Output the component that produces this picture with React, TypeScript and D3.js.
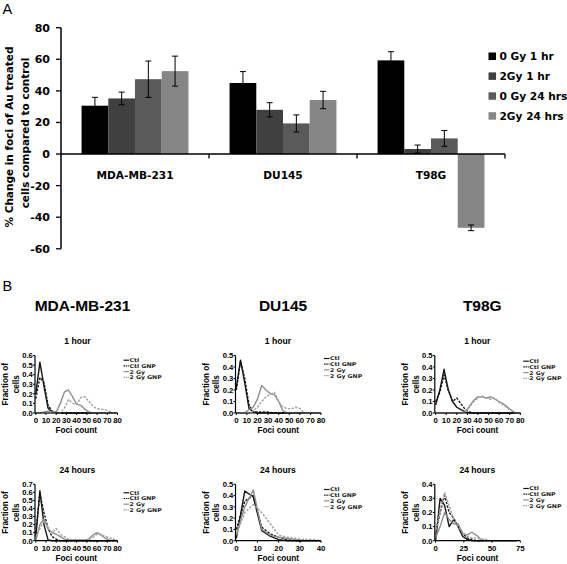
import React from "react";
import * as d3 from "d3";

// ---------- Panel A data ----------
const CATEGORIES = ["MDA-MB-231", "DU145", "T98G"];
const SERIES = ["0 Gy 1 hr", "2Gy 1 hr", "0 Gy 24 hrs", "2Gy 24 hrs"];
const VAL_0GY_1H = [30.6, 45, 59.3];
const VAL_2GY_1H = [35.2, 28, 3.2];
const VAL_0GY_24H = [47.4, 19.4, 9.9];
const VAL_2GY_24H = [52.5, 34.2, -46.7];
const ERR_0GY_1H = [5.3, 7.2, 5.5];
const ERR_2GY_1H = [4, 4.5, 2.5];
const ERR_0GY_24H = [11.5, 5.4, 5];
const ERR_2GY_24H = [9.5, 5.5, 1.8];
const Y_TICKS_A = [-60, -40, -20, 0, 20, 40, 60, 80];
const BAR_COLORS = ["#000000", "#404040", "#5a5a5a", "#868686"];

// ---------- Panel B data ----------
const LEGEND_B = ["Ctl", "Ctl GNP", "2 Gy", "2 Gy GNP"];
const COL_TITLES = ["MDA-MB-231", "DU145", "T98G"];
const ROW_TITLES = ["1 hour", "24 hours"];

const FOCI_80 = [0, 4, 8, 12, 16, 20, 24, 28, 32, 36, 40, 44, 48, 52, 56, 60, 64, 68, 72, 76, 80];
const FOCI_40 = [0, 4, 8, 12, 16, 20, 24, 28, 32, 36, 40];
const FOCI_72 = [0, 4, 8, 12, 16, 20, 24, 28, 32, 36, 40, 44, 48, 52, 56, 60, 64, 68, 72];

// MDA-MB-231, 1 hour
const MDA_1H_CTL = [0.2, 0.53, 0.28, 0.05, 0.01, 0, 0, 0, 0, 0, 0, 0, 0, 0, 0, 0, 0, 0, 0, 0, 0];
const MDA_1H_CTL_GNP = [0.15, 0.37, 0.32, 0.08, 0.02, 0.01, 0, 0, 0, 0, 0, 0, 0, 0, 0, 0, 0, 0, 0, 0, 0];
const MDA_1H_2GY = [0, 0, 0.01, 0.02, 0.01, 0.01, 0.1, 0.22, 0.24, 0.17, 0.09, 0.08, 0.04, 0.01, 0, 0, 0, 0, 0, 0, 0];
const MDA_1H_2GY_GNP = [0, 0, 0, 0, 0, 0, 0, 0.05, 0.14, 0.1, 0.09, 0.16, 0.17, 0.12, 0.07, 0.045, 0.04, 0.035, 0.02, 0, 0];
// DU145, 1 hour
const DU_1H_CTL = [0.22, 0.46, 0.26, 0.04, 0.01, 0, 0, 0, 0, 0, 0, 0, 0, 0, 0, 0, 0, 0, 0, 0, 0];
const DU_1H_CTL_GNP = [0.2, 0.45, 0.3, 0.07, 0.01, 0.01, 0.01, 0.01, 0.005, 0, 0, 0, 0, 0, 0, 0, 0, 0, 0, 0, 0];
const DU_1H_2GY = [0, 0, 0, 0.03, 0.05, 0.12, 0.24, 0.2, 0.17, 0.16, 0.1, 0.02, 0, 0, 0, 0, 0, 0, 0, 0, 0];
const DU_1H_2GY_GNP = [0, 0, 0, 0, 0.02, 0.05, 0.1, 0.14, 0.16, 0.18, 0.1, 0.05, 0.04, 0.035, 0.05, 0.04, 0, 0, 0, 0, 0];
// T98G, 1 hour
const T98_1H_CTL = [0.07, 0.2, 0.38, 0.2, 0.1, 0.05, 0.03, 0.01, 0, 0, 0, 0, 0, 0, 0, 0, 0, 0, 0, 0, 0];
const T98_1H_CTL_GNP = [0.1, 0.18, 0.33, 0.2, 0.1, 0.13, 0.08, 0.03, 0.01, 0, 0, 0, 0, 0, 0, 0, 0, 0, 0, 0, 0];
const T98_1H_2GY = [0, 0, 0, 0, 0, 0, 0, 0.01, 0.06, 0.11, 0.14, 0.14, 0.13, 0.14, 0.12, 0.1, 0.08, 0.05, 0.02, 0, 0];
const T98_1H_2GY_GNP = [0, 0, 0, 0, 0, 0, 0, 0.01, 0.05, 0.1, 0.13, 0.15, 0.13, 0.12, 0.13, 0.09, 0.07, 0.04, 0.02, 0, 0];
// MDA-MB-231, 24 hours
const MDA_24H_CTL = [0.05, 0.62, 0.2, 0.01, 0, 0, 0, 0, 0, 0, 0, 0, 0, 0, 0, 0, 0, 0, 0, 0, 0];
const MDA_24H_CTL_GNP = [0.1, 0.58, 0.35, 0.15, 0.05, 0.02, 0, 0, 0, 0, 0, 0, 0, 0, 0, 0, 0, 0, 0, 0, 0];
const MDA_24H_2GY = [0, 0.2, 0.27, 0.15, 0.1, 0.08, 0.05, 0.02, 0.01, 0.01, 0.01, 0.01, 0.01, 0.02, 0.07, 0.1, 0.07, 0.03, 0.01, 0, 0];
const MDA_24H_2GY_GNP = [0.05, 0.15, 0.25, 0.15, 0.1, 0.15, 0.08, 0.05, 0.02, 0.01, 0.02, 0.01, 0.01, 0.01, 0.04, 0.08, 0.08, 0.05, 0.04, 0.02, 0];
// DU145, 24 hours
const DU_24H_CTL = [0.02, 0.44, 0.39, 0.09, 0.04, 0.01, 0, 0, 0, 0, 0];
const DU_24H_CTL_GNP = [0.1, 0.35, 0.4, 0.12, 0.06, 0.03, 0.01, 0, 0, 0, 0];
const DU_24H_2GY = [0.05, 0.3, 0.45, 0.1, 0.05, 0.03, 0.02, 0.01, 0, 0, 0];
const DU_24H_2GY_GNP = [0.05, 0.25, 0.32, 0.25, 0.15, 0.05, 0.03, 0.02, 0.01, 0.01, 0];
// T98G, 24 hours
const T98_24H_CTL = [0, 0.3, 0.25, 0.1, 0.15, 0.1, 0.03, 0.01, 0, 0, 0, 0, 0, 0, 0, 0, 0, 0, 0];
const T98_24H_CTL_GNP = [0.05, 0.2, 0.32, 0.2, 0.16, 0.1, 0.05, 0.02, 0.01, 0, 0, 0, 0, 0, 0, 0, 0, 0, 0];
const T98_24H_2GY = [0.02, 0.1, 0.2, 0.15, 0.12, 0.12, 0.05, 0.04, 0.06, 0.04, 0.01, 0, 0, 0, 0, 0, 0, 0, 0];
const T98_24H_2GY_GNP = [0.05, 0.22, 0.34, 0.25, 0.15, 0.1, 0.06, 0.03, 0.02, 0.02, 0.01, 0.01, 0, 0, 0, 0, 0, 0, 0];

const X_MAX = [[80, 80, 80], [80, 40, 75]];
const X_STEP = [[10, 10, 10], [10, 10, 25]];
const Y_MAX = [[0.6, 0.5, 0.5], [0.7, 0.5, 0.4]];

const PANELS = [
  { row: 0, col: 0, foci: FOCI_80, series: [MDA_1H_CTL, MDA_1H_CTL_GNP, MDA_1H_2GY, MDA_1H_2GY_GNP] },
  { row: 0, col: 1, foci: FOCI_80, series: [DU_1H_CTL, DU_1H_CTL_GNP, DU_1H_2GY, DU_1H_2GY_GNP] },
  { row: 0, col: 2, foci: FOCI_80, series: [T98_1H_CTL, T98_1H_CTL_GNP, T98_1H_2GY, T98_1H_2GY_GNP] },
  { row: 1, col: 0, foci: FOCI_80, series: [MDA_24H_CTL, MDA_24H_CTL_GNP, MDA_24H_2GY, MDA_24H_2GY_GNP] },
  { row: 1, col: 1, foci: FOCI_40, series: [DU_24H_CTL, DU_24H_CTL_GNP, DU_24H_2GY, DU_24H_2GY_GNP] },
  { row: 1, col: 2, foci: FOCI_72, series: [T98_24H_CTL, T98_24H_CTL_GNP, T98_24H_2GY, T98_24H_2GY_GNP] },
];

// ---------- layout ----------
const W = 567, H = 564;
const DJ = "'DejaVu Sans', sans-serif";
const AR = "'Liberation Sans', Arial, sans-serif";
const COL_AX = [35, 235.5, 434.8];
const COL_W = [82.5, 85.5, 85.5];
const ROW_Y0 = [413, 540.7];
const ROW_TOP = [355.5, 484.3];
const LEG_Y = [[360.2, 358.5, 361.2], [492.8, 489.5, 488.5]];
const LEG_STEP = 5.7;
const LINE_STYLES = [
  { color: "#151515", dash: undefined },
  { color: "#151515", dash: "2.4,1.4" },
  { color: "#8e8e8e", dash: undefined },
  { color: "#a0a0a0", dash: "2.4,1.4" },
];

function BarPanel() {
  const y = d3.scaleLinear().domain([-60, 80]).range([248.8, 27.7]);
  const x0 = d3.scaleBand().domain(CATEGORIES).range([61, 505]);
  const x1 = d3.scaleBand().domain(SERIES).range([0, x0.bandwidth()]).paddingInner(0).paddingOuter(0.77);
  const vals = [VAL_0GY_1H, VAL_2GY_1H, VAL_0GY_24H, VAL_2GY_24H];
  const errs = [ERR_0GY_1H, ERR_2GY_1H, ERR_0GY_24H, ERR_2GY_24H];
  const y0 = y(0);
  return (
    <g>
      {CATEGORIES.map((c, ci) =>
        SERIES.map((s, si) => {
          const v = vals[si][ci];
          const e = errs[si][ci];
          const bx = (x0(c) as number) + (x1(s) as number);
          const bw = x1.bandwidth();
          const cx = bx + bw / 2;
          return (
            <g key={c + s}>
              <rect x={bx} y={Math.min(y(v), y0)} width={bw} height={Math.abs(y(v) - y0)} fill={BAR_COLORS[si]} />
              <line x1={cx} x2={cx} y1={y(v + e)} y2={y(v - e)} stroke="#000" strokeWidth={1} />
              <line x1={cx - 3} x2={cx + 3} y1={y(v + e)} y2={y(v + e)} stroke="#000" strokeWidth={1} />
              <line x1={cx - 3} x2={cx + 3} y1={y(v - e)} y2={y(v - e)} stroke="#000" strokeWidth={1} />
            </g>
          );
        })
      )}
      {/* y axis */}
      <line x1={61} x2={61} y1={y(80)} y2={y(-60)} stroke="#000" strokeWidth={1.5} />
      {Y_TICKS_A.map((t) => (
        <g key={t}>
          <line x1={56} x2={61} y1={y(t)} y2={y(t)} stroke="#000" strokeWidth={1.3} />
          <text x={50} y={y(t) + 4} textAnchor="end" fontFamily={DJ} fontWeight="bold" fontSize={11}>
            {t}
          </text>
        </g>
      ))}
      {/* x axis */}
      <line x1={61} x2={505} y1={y0} y2={y0} stroke="#000" strokeWidth={1.5} />
      {CATEGORIES.map((c) => (
        <g key={c}>
          <line x1={(x0(c) as number) + x0.bandwidth()} x2={(x0(c) as number) + x0.bandwidth()} y1={y0} y2={y0 + 4.5} stroke="#000" strokeWidth={1.3} />
          <text x={(x0(c) as number) + x0.bandwidth() / 2} y={179} textAnchor="middle" fontFamily={DJ} fontWeight="bold" fontSize={10.6}>
            {c}
          </text>
        </g>
      ))}
      {/* y label */}
      <text transform={`translate(12.8,137) rotate(-90)`} textAnchor="middle" fontFamily={DJ} fontWeight="bold" fontSize={10.5}>
        % Change in foci of Au treated
      </text>
      <text transform={`translate(28.8,133) rotate(-90)`} textAnchor="middle" fontFamily={DJ} fontWeight="bold" fontSize={10.5}>
        cells compared to control
      </text>
      {/* legend */}
      {SERIES.map((s, i) => (
        <g key={s}>
          <rect x={488.5} y={52.5 + i * 19.9} width={7.5} height={7.5} fill={BAR_COLORS[i]} />
          <text x={499.5} y={60.3 + i * 19.9} fontFamily={DJ} fontWeight="bold" fontSize={10.6}>
            {s}
          </text>
        </g>
      ))}
    </g>
  );
}

function SmallPanel({ row, col, foci, series }: { row: number; col: number; foci: number[]; series: number[][] }) {
  const ax = COL_AX[col];
  const w = COL_W[col];
  const y0 = ROW_Y0[row];
  const top = ROW_TOP[row];
  const xMax = X_MAX[row][col];
  const yMax = Y_MAX[row][col];
  const x = d3.scaleLinear().domain([0, xMax]).range([ax + 0.8, ax + w]);
  const y = d3.scaleLinear().domain([0, yMax]).range([y0, top]);
  const xTicks = d3.range(0, xMax + 0.001, X_STEP[row][col]);
  const yTicks = d3.range(0, Math.round(yMax * 10) + 1).map((k) => k / 10);
  const line = d3
    .line<number>()
    .x((_, i) => x(foci[i]))
    .y((d) => y(d));
  const midY = (y0 + top) / 2;
  return (
    <g>
      {series.map((s, i) => (
        <path
          key={i}
          d={line(s) as string}
          fill="none"
          stroke={LINE_STYLES[i].color}
          strokeWidth={1.4}
          strokeDasharray={LINE_STYLES[i].dash}
          strokeLinejoin="round"
        />
      ))}
      <line x1={ax} x2={ax} y1={top} y2={y0} stroke="#000" strokeWidth={1.2} />
      <line x1={ax} x2={ax + w} y1={y0} y2={y0} stroke="#000" strokeWidth={1.2} />
      {yTicks.map((t) => (
        <g key={t}>
          <line x1={ax - 2} x2={ax} y1={y(t)} y2={y(t)} stroke="#000" strokeWidth={1} />
          <text x={ax - 2.2} y={y(t) + 2.8} textAnchor="end" fontFamily={AR} fontWeight="bold" fontSize={7.6}>
            {t.toFixed(1)}
          </text>
        </g>
      ))}
      {xTicks.map((t) => (
        <g key={t}>
          <line x1={x(t)} x2={x(t)} y1={y0} y2={y0 + 2} stroke="#000" strokeWidth={1} />
          <text x={x(t)} y={y0 + 10.2} textAnchor="middle" fontFamily={AR} fontWeight="bold" fontSize={7.8}>
            {t}
          </text>
        </g>
      ))}
      <text x={ax + w / 2} y={y0 + 20} textAnchor="middle" fontFamily={AR} fontWeight="bold" fontSize={8.2}>
        Foci count
      </text>
      <text transform={`translate(${ax - 26.8},${midY}) rotate(-90)`} textAnchor="middle" fontFamily={AR} fontWeight="bold" fontSize={8.2}>
        Fraction of
      </text>
      <text transform={`translate(${ax - 16.3},${midY}) rotate(-90)`} textAnchor="middle" fontFamily={AR} fontWeight="bold" fontSize={8.2}>
        cells
      </text>
      <text x={ax + 42.5} y={top - 11.5} textAnchor="middle" fontFamily={AR} fontWeight="bold" fontSize={8.6}>
        {ROW_TITLES[row]}
      </text>
      {LEGEND_B.map((l, i) => {
        const ly = LEG_Y[row][col] + i * LEG_STEP;
        return (
          <g key={l}>
            <line x1={ax + 88.5} x2={ax + 94} y1={ly} y2={ly} stroke={LINE_STYLES[i].color} strokeWidth={1.2} strokeDasharray={LINE_STYLES[i].dash ? "1.5,0.8" : undefined} />
            <text transform={`translate(${ax + 94.5},${ly + 1.9}) scale(1.18,1)`} fontFamily={DJ} fontWeight="bold" fontSize={5.2} fill="#222">
              {l}
            </text>
          </g>
        );
      })}
    </g>
  );
}

export default function App() {
  return (
    <svg width={W} height={H} viewBox={`0 0 ${W} ${H}`} style={{ position: "absolute", left: 0, top: 0, background: "#fff" }}>
      <rect x={0} y={0} width={W} height={H} fill="#fff" />
      <text x={2.5} y={14} fontFamily={AR} fontSize={14.5}>A</text>
      <text x={2.5} y={290.5} fontFamily={AR} fontSize={14.5}>B</text>
      <BarPanel />
      {COL_TITLES.map((t, i) => (
        <text key={t} x={COL_AX[i] + 47.5} y={311} textAnchor="middle" fontFamily={AR} fontWeight="bold" fontSize={15.5}>
          {t}
        </text>
      ))}
      {PANELS.map((p, i) => (
        <SmallPanel key={i} row={p.row} col={p.col} foci={p.foci} series={p.series} />
      ))}
    </svg>
  );
}
